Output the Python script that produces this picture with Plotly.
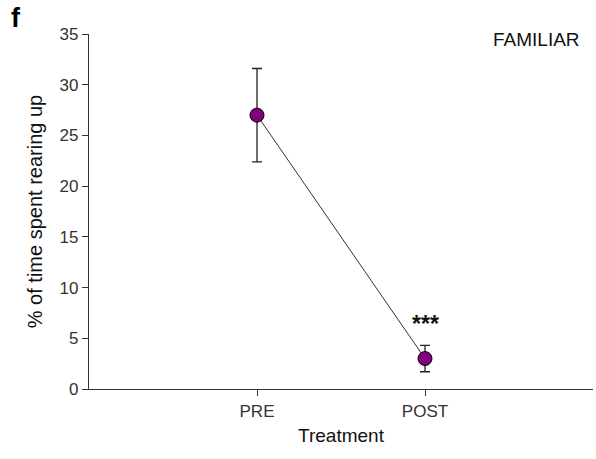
import plotly.graph_objects as go

categories = ["PRE", "POST"]
means = [27.0, 3.0]
errors = [4.6, 1.3]
x_pos = [1, 2]
y_ticks = [0, 5, 10, 15, 20, 25, 30, 35]

fig = go.Figure()
fig.add_trace(go.Scatter(
    x=x_pos, y=means, mode="lines+markers",
    line=dict(color="#333333", width=1),
    marker=dict(size=14, color="#800080", line=dict(color="black", width=1)),
    error_y=dict(type="data", array=errors, visible=True, color="#222222", thickness=1.3, width=5),
    showlegend=False,
))

fig.update_layout(
    width=596, height=459,
    margin=dict(l=89, r=3, t=34, b=70),
    paper_bgcolor="white", plot_bgcolor="white",
    font=dict(family="Liberation Sans, Arial, sans-serif", color="#222222", size=16),
    xaxis=dict(
        range=[0, 3], tickvals=x_pos, ticktext=categories,
        showline=True, linecolor="#333333", linewidth=1.3,
        ticks="outside", ticklen=6, tickcolor="#333333",
        showgrid=False, zeroline=False,
        title=dict(text="Treatment", font=dict(size=19, color="#111111"), standoff=9),
        tickfont=dict(size=17, color="#333333"),
    ),
    yaxis=dict(
        range=[0, 35], tickvals=y_ticks,
        showline=True, linecolor="#333333", linewidth=1.3,
        ticks="outside", ticklen=6, tickcolor="#333333",
        showgrid=False, zeroline=False,
        title=dict(text="% of time spent rearing up", font=dict(size=20, color="#111111"), standoff=11),
        tickfont=dict(size=17, color="#333333"),
    ),
    annotations=[
        dict(text="<b>f</b>", x=-80/504, y=1 + 16/355, xref="paper", yref="paper", showarrow=False,
             font=dict(size=27, color="black"), xanchor="left", yanchor="middle"),
        dict(text="FAMILIAR", x=(582-89)/504, y=1 - (40-34)/355, xref="paper", yref="paper", showarrow=False,
             font=dict(size=19, color="#111111"), xanchor="right", yanchor="middle"),
        dict(text="<b>***</b>", x=2, y=6.4, xref="x", yref="y", showarrow=False,
             font=dict(size=23, color="#111111"), xanchor="center", yanchor="middle"),
    ],
)

fig.write_html("out.html")
